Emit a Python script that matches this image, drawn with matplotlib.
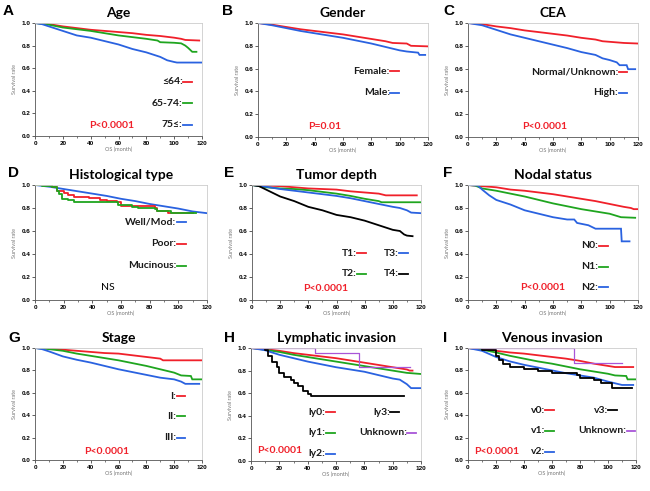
import matplotlib
matplotlib.use("Agg")
import matplotlib.pyplot as plt
from matplotlib.ticker import MultipleLocator

plt.rcParams['font.family'] = ['Lato', 'DejaVu Sans']

RED = '#f0202a'
GREEN = '#1fa51f'
BLUE = '#2a62e0'
BLACK = '#000000'
PURPLE = '#a855d8'

# ---------------- data ----------------
# A: Age
a_t1 = [0, 10, 20, 30, 40, 50, 60, 70, 80, 90, 100, 105, 108, 118]
a_s1 = [1, 0.99, 0.97, 0.955, 0.94, 0.93, 0.92, 0.91, 0.895, 0.885, 0.87, 0.86, 0.85, 0.845]
a_t2 = [0, 10, 20, 30, 40, 50, 60, 70, 80, 88, 90, 100, 105, 108, 110, 113, 116]
a_s2 = [1, 0.985, 0.96, 0.945, 0.93, 0.91, 0.89, 0.875, 0.86, 0.845, 0.83, 0.825, 0.82, 0.80, 0.78, 0.745, 0.745]
a_t3 = [0, 5, 10, 20, 30, 40, 50, 60, 70, 80, 90, 95, 100, 102, 120]
a_s3 = [1, 0.99, 0.97, 0.93, 0.89, 0.87, 0.84, 0.81, 0.77, 0.74, 0.70, 0.67, 0.655, 0.65, 0.65]

# B: Gender
b_t1 = [0, 10, 20, 30, 40, 50, 60, 70, 80, 90, 95, 105, 108, 120]
b_s1 = [1, 0.985, 0.965, 0.945, 0.93, 0.915, 0.90, 0.88, 0.86, 0.84, 0.825, 0.82, 0.80, 0.795]
b_t2 = [0, 10, 20, 30, 40, 50, 60, 70, 80, 90, 100, 105, 113, 114, 118]
b_s2 = [1, 0.98, 0.955, 0.93, 0.91, 0.89, 0.87, 0.845, 0.82, 0.79, 0.76, 0.75, 0.74, 0.72, 0.72]

# C: CEA
c_t1 = [0, 10, 20, 30, 40, 50, 60, 70, 80, 90, 95, 100, 110, 120]
c_s1 = [1, 0.99, 0.97, 0.955, 0.935, 0.92, 0.905, 0.89, 0.87, 0.855, 0.84, 0.835, 0.825, 0.82]
c_t2 = [0, 10, 20, 30, 40, 50, 60, 70, 80, 90, 95, 100, 105, 107, 112, 113, 118]
c_s2 = [1, 0.98, 0.94, 0.90, 0.87, 0.84, 0.81, 0.78, 0.745, 0.72, 0.69, 0.675, 0.655, 0.63, 0.63, 0.595, 0.595]

# D: Histological type
d_t1 = [0, 10, 20, 30, 40, 50, 60, 70, 80, 90, 100, 110, 120]
d_s1 = [1, 0.985, 0.965, 0.945, 0.925, 0.905, 0.88, 0.86, 0.835, 0.815, 0.795, 0.77, 0.755]
d_t2 = [0, 12, 15, 20, 23, 27, 38, 45, 50, 57, 60, 72, 84, 85, 93, 110]
d_s2 = [1, 0.98, 0.95, 0.93, 0.91, 0.90, 0.885, 0.87, 0.86, 0.85, 0.82, 0.815, 0.80, 0.775, 0.76, 0.76]
d_t3 = [0, 5, 12, 15, 17, 19, 23, 27, 57, 58, 68, 72, 84, 85, 95, 112]
d_s3 = [1, 0.99, 0.98, 0.95, 0.92, 0.88, 0.87, 0.85, 0.85, 0.83, 0.81, 0.80, 0.79, 0.77, 0.76, 0.76]

# E: Tumor depth
e_t1 = [0, 10, 20, 30, 40, 50, 60, 70, 80, 90, 95, 117]
e_s1 = [1, 0.995, 0.99, 0.98, 0.97, 0.965, 0.96, 0.945, 0.935, 0.925, 0.91, 0.91]
e_t2 = [0, 10, 20, 30, 40, 50, 60, 70, 80, 90, 92, 120]
e_s2 = [1, 0.98, 0.97, 0.965, 0.955, 0.94, 0.925, 0.905, 0.88, 0.86, 0.85, 0.85]
e_t3 = [0, 10, 20, 30, 40, 50, 60, 70, 80, 90, 100, 105, 110, 113, 120]
e_s3 = [1, 0.985, 0.965, 0.95, 0.935, 0.92, 0.905, 0.885, 0.86, 0.835, 0.81, 0.80, 0.78, 0.76, 0.755]
e_t4 = [0, 5, 10, 20, 30, 40, 50, 60, 70, 80, 90, 100, 105, 108, 110, 114]
e_s4 = [1, 0.99, 0.96, 0.90, 0.86, 0.81, 0.78, 0.74, 0.72, 0.69, 0.65, 0.61, 0.60, 0.57, 0.56, 0.555]

# F: Nodal status
f_t1 = [0, 10, 20, 30, 40, 50, 60, 70, 80, 90, 100, 110, 115, 117, 120]
f_s1 = [1, 0.99, 0.98, 0.96, 0.95, 0.935, 0.92, 0.90, 0.88, 0.86, 0.835, 0.81, 0.80, 0.79, 0.79]
f_t2 = [0, 5, 10, 20, 30, 40, 50, 60, 70, 80, 90, 100, 108, 118]
f_s2 = [1, 0.995, 0.97, 0.95, 0.925, 0.90, 0.87, 0.84, 0.815, 0.79, 0.77, 0.75, 0.72, 0.715]
f_t3 = [0, 7, 10, 15, 20, 30, 40, 50, 60, 70, 75, 77, 85, 90, 108, 108.5, 114]
f_s3 = [1, 0.995, 0.96, 0.91, 0.87, 0.83, 0.78, 0.75, 0.72, 0.70, 0.70, 0.67, 0.65, 0.62, 0.62, 0.51, 0.51]

# G: Stage
g_t1 = [0, 10, 20, 30, 40, 50, 60, 70, 80, 90, 92, 120]
g_s1 = [1, 0.995, 0.985, 0.975, 0.965, 0.955, 0.95, 0.935, 0.92, 0.905, 0.89, 0.89]
g_t2 = [0, 10, 20, 30, 40, 50, 60, 70, 80, 90, 100, 105, 112, 113, 120]
g_s2 = [1, 0.99, 0.975, 0.95, 0.93, 0.91, 0.89, 0.865, 0.84, 0.81, 0.78, 0.755, 0.75, 0.72, 0.72]
g_t3 = [0, 5, 10, 20, 30, 40, 50, 60, 70, 80, 90, 100, 105, 108, 118]
g_s3 = [1, 0.99, 0.97, 0.925, 0.895, 0.87, 0.84, 0.81, 0.785, 0.76, 0.735, 0.72, 0.70, 0.68, 0.68]

# H: Lymphatic invasion
h_t1 = [0, 10, 20, 30, 40, 50, 60, 70, 80, 90, 100, 110, 112, 114]
h_s1 = [1, 0.99, 0.975, 0.955, 0.94, 0.925, 0.91, 0.89, 0.87, 0.85, 0.83, 0.81, 0.80, 0.80]
h_t2 = [0, 10, 20, 30, 40, 50, 60, 70, 80, 90, 100, 110, 120]
h_s2 = [1, 0.985, 0.965, 0.94, 0.92, 0.90, 0.88, 0.86, 0.84, 0.82, 0.80, 0.78, 0.77]
h_t3 = [0, 10, 20, 30, 40, 50, 60, 70, 80, 90, 100, 105, 110, 113, 120]
h_s3 = [1, 0.98, 0.94, 0.91, 0.88, 0.855, 0.83, 0.81, 0.79, 0.76, 0.73, 0.72, 0.68, 0.645, 0.645]
h_t4 = [0, 10, 12, 15, 18, 20, 23, 28, 30, 33, 37, 40, 42, 108]
h_s4 = [1, 0.98, 0.93, 0.88, 0.83, 0.78, 0.74, 0.72, 0.69, 0.66, 0.62, 0.59, 0.575, 0.575]
h_t5 = [0, 45, 76, 112]
h_s5 = [1, 0.956, 0.833, 0.833]

# I: Venous invasion
i_t1 = [0, 10, 20, 30, 40, 50, 60, 70, 80, 90, 100, 105, 118]
i_s1 = [1, 0.99, 0.975, 0.96, 0.95, 0.935, 0.92, 0.905, 0.885, 0.86, 0.84, 0.83, 0.83]
i_t2 = [0, 10, 20, 30, 40, 50, 60, 70, 80, 90, 100, 105, 113, 114, 120]
i_s2 = [1, 0.985, 0.96, 0.93, 0.905, 0.88, 0.86, 0.835, 0.81, 0.79, 0.77, 0.755, 0.75, 0.72, 0.72]
i_t3 = [0, 10, 20, 30, 40, 50, 60, 70, 80, 90, 100, 105, 110, 118]
i_s3 = [1, 0.975, 0.92, 0.88, 0.85, 0.825, 0.80, 0.775, 0.755, 0.735, 0.70, 0.685, 0.67, 0.67]
i_t4 = [0, 10, 20, 22, 25, 30, 40, 50, 60, 78, 80, 90, 95, 103, 117]
i_s4 = [1, 0.98, 0.93, 0.89, 0.86, 0.83, 0.81, 0.795, 0.78, 0.76, 0.735, 0.71, 0.69, 0.64, 0.64]
i_t5 = [0, 76, 110]
i_s5 = [1, 0.87, 0.87]

x_ticks = [0, 20, 40, 60, 80, 100, 120]
y_ticks = [0.0, 0.2, 0.4, 0.6, 0.8, 1.0]

panels = [
    dict(letter='A', title='Age', box=(35, 202, 23, 136), lpos=(3, 4),
         curves=[(a_t1, a_s1, RED, 'line'), (a_t2, a_s2, GREEN, 'line'), (a_t3, a_s3, BLUE, 'line')],
         legend=[('≤64:', RED, 106, 0.48), ('65-74:', GREEN, 106, 0.29), ('75≤:', BLUE, 106, 0.10)],
         ptext=('P<0.0001', RED, 55, 0.09)),
    dict(letter='B', title='Gender', box=(258, 428, 23, 137), lpos=(222, 4),
         curves=[(b_t1, b_s1, RED, 'line'), (b_t2, b_s2, BLUE, 'line')],
         legend=[('Female:', RED, 93, 0.576), ('Male:', BLUE, 93, 0.386)],
         ptext=('P=0.01', RED, 47, 0.094)),
    dict(letter='C', title='CEA', box=(468, 638, 23, 137), lpos=(443, 4),
         curves=[(c_t1, c_s1, RED, 'line'), (c_t2, c_s2, BLUE, 'line')],
         legend=[('Normal/Unknown:', RED, 106, 0.57), ('High:', BLUE, 106, 0.386)],
         ptext=('P<0.0001', RED, 54, 0.09)),
    dict(letter='D', title='Histological type', box=(35, 207, 185, 300), lpos=(8, 166),
         curves=[(d_t1, d_s1, BLUE, 'line'), (d_t2, d_s2, RED, 'step'), (d_t3, d_s3, GREEN, 'step')],
         legend=[('Well/Mod:', BLUE, 98.5, 0.674), ('Poor:', RED, 98.5, 0.49), ('Mucinous:', GREEN, 98.5, 0.30)],
         ptext=('NS', BLACK, 51, 0.107)),
    dict(letter='E', title='Tumor depth', box=(252, 421, 185, 300), lpos=(224, 166),
         curves=[(e_t1, e_s1, RED, 'line'), (e_t2, e_s2, GREEN, 'line'), (e_t3, e_s3, BLUE, 'line'), (e_t4, e_s4, BLACK, 'line')],
         legend=[('T1:', RED, 74.5, 0.406), ('T3:', BLUE, 104, 0.406), ('T2:', GREEN, 74.5, 0.23), ('T4:', BLACK, 104, 0.23)],
         ptext=('P<0.0001', RED, 52.5, 0.10)),
    dict(letter='F', title='Nodal status', box=(468, 638, 185, 300), lpos=(443, 166),
         curves=[(f_t1, f_s1, RED, 'line'), (f_t2, f_s2, GREEN, 'line'), (f_t3, f_s3, BLUE, 'line')],
         legend=[('N0:', RED, 92, 0.47), ('N1:', GREEN, 92, 0.29), ('N2:', BLUE, 92, 0.11)],
         ptext=('P<0.0001', RED, 53, 0.11)),
    dict(letter='G', title='Stage', box=(35, 202, 348, 460), lpos=(8, 331),
         curves=[(g_t1, g_s1, RED, 'line'), (g_t2, g_s2, GREEN, 'line'), (g_t3, g_s3, BLUE, 'line')],
         legend=[('I:', RED, 101.5, 0.57), ('II:', GREEN, 101.5, 0.39), ('III:', BLUE, 101.5, 0.20)],
         ptext=('P<0.0001', RED, 51.5, 0.08)),
    dict(letter='H', title='Lymphatic invasion', box=(251, 421, 348, 461), lpos=(224, 331),
         curves=[(h_t1, h_s1, RED, 'line'), (h_t2, h_s2, GREEN, 'line'), (h_t3, h_s3, BLUE, 'line'),
                 (h_t4, h_s4, BLACK, 'step'), (h_t5, h_s5, PURPLE, 'stepthin')],
         legend=[('ly0:', RED, 52.5, 0.43), ('ly3:', BLACK, 98, 0.43), ('ly1:', GREEN, 52.5, 0.25),
                 ('Unknown:', PURPLE, 110, 0.25), ('ly2:', BLUE, 52.5, 0.064)],
         ptext=('P<0.0001', RED, 20, 0.094)),
    dict(letter='I', title='Venous invasion', box=(468, 636, 348, 460), lpos=(443, 331),
         curves=[(i_t1, i_s1, RED, 'line'), (i_t2, i_s2, GREEN, 'line'), (i_t3, i_s3, BLUE, 'line'),
                 (i_t4, i_s4, BLACK, 'step'), (i_t5, i_s5, PURPLE, 'stepthin')],
         legend=[('v0:', RED, 55, 0.445), ('v3:', BLACK, 100, 0.445), ('v1:', GREEN, 55, 0.26),
                 ('Unknown:', PURPLE, 113, 0.26), ('v2:', BLUE, 55, 0.074)],
         ptext=('P<0.0001', RED, 20.7, 0.08)),
]

W, H = 650, 491
fig = plt.figure(figsize=(W / 100, H / 100), dpi=100)
TICK_FONT = ['Liberation Sans', 'DejaVu Sans']

for p in panels:
    l, r, t, b = p['box']
    ax = fig.add_axes([l / W, 1 - b / H, (r - l) / W, (b - t) / H])
    for tt, ss, col, kind in p['curves']:
        if kind == 'line':
            ax.plot(tt, ss, color=col, lw=1.3, solid_joinstyle='miter')
        elif kind == 'step':
            ax.plot(tt, ss, color=col, lw=1.3, drawstyle='steps-post')
        else:
            ax.plot(tt, ss, color=col, lw=0.9, drawstyle='steps-post')
    for lab, col, xe, yy in p['legend']:
        ax.text(xe, yy, lab, ha='right', va='center', fontsize=7.5, fontweight='bold', color='#1a1a1a')
        ax.plot([xe + 0.3, xe + 6.5], [yy, yy], color=col, lw=1.3, clip_on=False)
    ptxt, pcol, px, py = p['ptext']
    ax.text(px, py, ptxt, ha='center', va='center', fontsize=7.5, color=pcol,
            fontweight='normal' if ptxt == 'NS' else 'bold')
    ax.set_xlim(0, 120)
    ax.set_ylim(0, 1.0)
    ax.set_xticks(x_ticks)
    ax.set_yticks(y_ticks)
    ax.set_xticklabels([str(v) for v in x_ticks])
    ax.set_yticklabels(['%.1f' % v for v in y_ticks])
    ax.xaxis.set_minor_locator(MultipleLocator(10))
    ax.tick_params(axis='both', which='major', labelsize=4.6, length=2, width=0.6, pad=1.5, color='#444444')
    ax.tick_params(axis='x', which='minor', length=1.2, width=0.5, color='#444444')
    for lbl in ax.get_xticklabels() + ax.get_yticklabels():
        lbl.set_fontweight('bold')
        lbl.set_family(TICK_FONT)
    ax.spines['left'].set_color('#555555')
    ax.spines['bottom'].set_color('#555555')
    ax.spines['top'].set_color('#cccccc')
    ax.spines['right'].set_color('#cccccc')
    for s in ax.spines.values():
        s.set_linewidth(0.6)
    ax.set_xlabel('OS (month)', fontsize=4, color='#777777', labelpad=1)
    ax.set_ylabel('Survival rate', fontsize=4, color='#777777', labelpad=3)
    ax.set_title(p['title'], fontsize=10, fontweight='bold', pad=4)
    lx, ly = p['lpos']
    fig.text(lx / W, 1 - ly / H, p['letter'], ha='left', va='top', fontsize=11,
             fontweight='bold', family=['Liberation Sans', 'DejaVu Sans'])

fig.savefig('out.png', dpi=100)
